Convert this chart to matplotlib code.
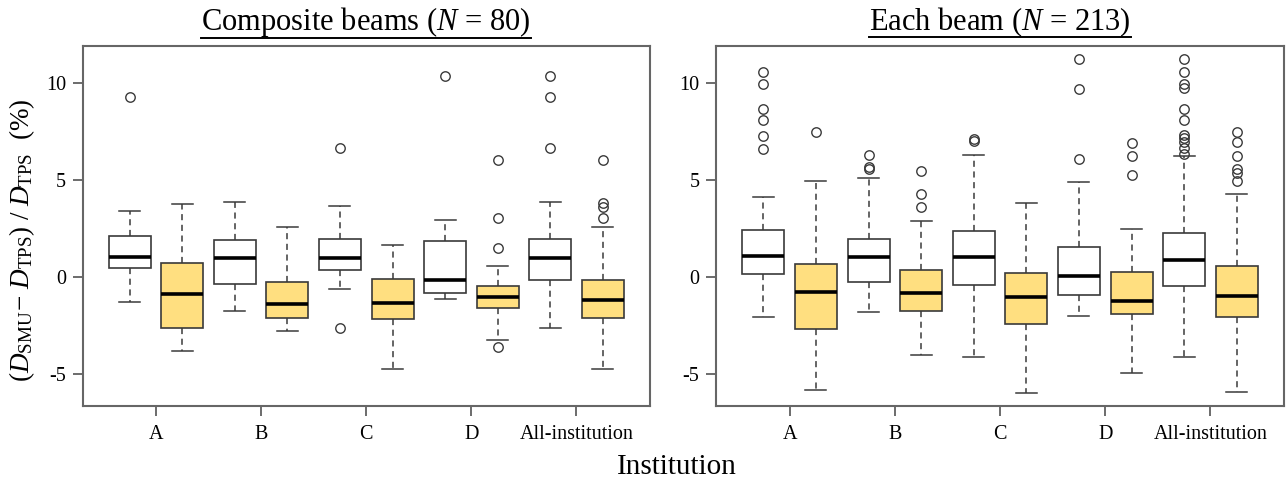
import matplotlib
matplotlib.use("Agg")
import matplotlib.pyplot as plt
from matplotlib.lines import Line2D

plt.rcParams['font.family'] = ['Liberation Serif', 'DejaVu Serif']
plt.rcParams['mathtext.fontset'] = 'custom'
plt.rcParams['mathtext.rm'] = 'Liberation Serif'
plt.rcParams['mathtext.it'] = 'Liberation Serif:italic'

groups = ["A", "B", "C", "D", "All-institution"]
yticks = [-5, 0, 5, 10]

# composite beams (N = 80): white boxes
comp_w_low = [-1.27, -1.73, -0.62, -1.10, -2.59]
comp_w_q1 = [0.50, -0.34, 0.39, -0.82, -0.14]
comp_w_med = [1.05, 0.98, 1.01, -0.12, 0.98]
comp_w_q3 = [2.14, 1.90, 1.96, 1.87, 1.96]
comp_w_high = [3.41, 3.89, 3.65, 2.93, 3.89]
comp_w_out = [[9.31], [], [6.67, -2.62], [10.39], [10.39, 9.31, 6.67]]
# composite beams: yellow boxes
comp_y_low = [-3.81, -2.76, -4.73, -3.22, -4.73]
comp_y_q1 = [-2.59, -2.08, -2.14, -1.56, -2.08]
comp_y_med = [-0.87, -1.39, -1.32, -0.99, -1.15]
comp_y_q3 = [0.75, -0.22, -0.09, -0.43, -0.12]
comp_y_high = [3.79, 2.59, 1.68, 0.57, 2.59]
comp_y_out = [[], [], [], [6.04, 3.04, 1.51, -3.57], [6.04, 3.81, 3.64, 3.04]]

# each beam (N = 213): white boxes
each_w_low = [-2.03, -1.78, -4.10, -2.00, -4.10]
each_w_q1 = [0.19, -0.26, -0.40, -0.90, -0.43]
each_w_med = [1.09, 1.05, 1.05, 0.09, 0.90]
each_w_q3 = [2.43, 1.98, 2.38, 1.55, 2.26]
each_w_high = [4.14, 5.12, 6.28, 4.91, 6.26]
each_w_out = [[10.6, 9.95, 8.66, 8.12, 7.28, 6.60], [6.29, 5.69, 5.57], [7.14, 7.02],
              [11.24, 9.69, 6.12],
              [11.25, 10.6, 9.96, 9.74, 8.66, 8.09, 7.33, 7.16, 6.96, 6.65, 6.34]]
# each beam: yellow boxes
each_y_low = [-5.79, -4.02, -5.97, -4.91, -5.90]
each_y_q1 = [-2.67, -1.71, -2.43, -1.91, -2.06]
each_y_med = [-0.78, -0.81, -1.02, -1.21, -0.95]
each_y_q3 = [0.69, 0.40, 0.24, 0.28, 0.60]
each_y_high = [4.95, 2.91, 3.84, 2.50, 4.29]
each_y_out = [[7.47], [5.50, 4.28, 3.60], [], [6.93, 6.24, 5.26], [7.47, 6.96, 6.27, 5.57, 5.36, 4.96]]

WHITE = "white"
YELLOW = "#FFDF80"
EDGE = "#3a3a3a"


def stats(low, q1, med, q3, high, out):
    return [dict(whislo=a, q1=b, med=c, q3=d, whishi=e, fliers=f)
            for a, b, c, d, e, f in zip(low, q1, med, q3, high, out)]


def draw_boxes(ax, st, pos, color):
    ax.bxp(st, positions=pos, widths=0.8, capwidths=0.4, patch_artist=True,
           boxprops=dict(facecolor=color, edgecolor=EDGE, linewidth=1.2),
           medianprops=dict(color="black", linewidth=2.6, solid_capstyle="butt"),
           whiskerprops=dict(color=EDGE, linewidth=1.1, linestyle=(0, (4, 3))),
           capprops=dict(color=EDGE, linewidth=1.1),
           flierprops=dict(marker="o", markersize=6.8, markerfacecolor="none",
                           markeredgecolor=EDGE, markeredgewidth=1.0))


fig = plt.figure(figsize=(12.86, 4.82), dpi=100)
ax1 = fig.add_axes([0.0642, 0.1577, 0.4412, 0.7469])
ax2 = fig.add_axes([0.5568, 0.1577, 0.4417, 0.7469])

panels = [
    (ax1, stats(comp_w_low, comp_w_q1, comp_w_med, comp_w_q3, comp_w_high, comp_w_out),
     stats(comp_y_low, comp_y_q1, comp_y_med, comp_y_q3, comp_y_high, comp_y_out),
     r"Composite beams ($N$ = 80)"),
    (ax2, stats(each_w_low, each_w_q1, each_w_med, each_w_q3, each_w_high, each_w_out),
     stats(each_y_low, each_y_q1, each_y_med, each_y_q3, each_y_high, each_y_out),
     r"Each beam ($N$ = 213)"),
]

titles = []
for ax, sw, sy, title in panels:
    n = len(groups)
    draw_boxes(ax, sw, [2 * i + 1 for i in range(n)], WHITE)
    draw_boxes(ax, sy, [2 * i + 2 for i in range(n)], YELLOW)
    ax.set_xlim(0.1, 10.9)
    ax.set_ylim(-6.63, 11.92)
    ax.set_xticks([2 * i + 1.5 for i in range(n)])
    ax.set_xticklabels(groups, fontsize=14.5)
    ax.set_yticks(yticks)
    ax.set_yticklabels([str(v) for v in yticks], fontsize=14.5)
    ax.tick_params(axis="both", length=7, width=1.1, color="#444444", pad=5)
    ax.tick_params(axis="x", pad=7)
    for sp in ax.spines.values():
        sp.set_color("#666666")
        sp.set_linewidth(1.5)
    t = fig.text((ax.get_position().x0 + ax.get_position().x1) / 2, 1 - 30 / 482, title,
                 ha="center", va="baseline", fontsize=22)
    titles.append(t)

fig.text(22 / 1286, 1 - 240 / 482,
         r"$(D_{\mathrm{SMU}}\!-\,D_{\mathrm{TPS}})\ /\ D_{\mathrm{TPS}}\ \ (\%)$",
         rotation=90, ha="center", va="center", fontsize=19.5)
fig.text(677 / 1286, 1 - 467 / 482, "Institution", ha="center", va="center", fontsize=21)

# underline the panel titles
fig.canvas.draw()
r = fig.canvas.get_renderer()
for t in titles:
    bb = t.get_window_extent(r)
    fig.add_artist(Line2D([bb.x0, bb.x1], [bb.y0 + 1.5, bb.y0 + 1.5], transform=None,
                          color="black", linewidth=1.4))

fig.savefig("out.png", dpi=100)
